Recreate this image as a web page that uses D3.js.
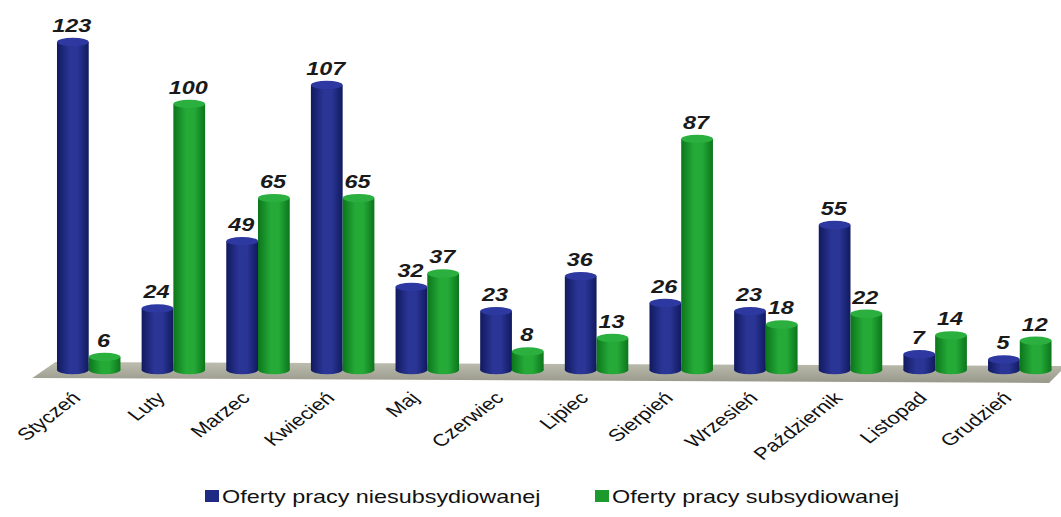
<!DOCTYPE html>
<html>
<head>
<meta charset="utf-8">
<script src="https://cdn.jsdelivr.net/npm/d3@7/dist/d3.min.js"></script>
<style>
  html, body { margin: 0; padding: 0; background: #ffffff; }
  svg { display: block; }
  text { font-family: "Liberation Sans", Arial, sans-serif; }
</style>
</head>
<body>
<svg id="chart" width="1061" height="517"></svg>
<script>
// ---- data ----
const months = ["Styczeń","Luty","Marzec","Kwiecień","Maj","Czerwiec","Lipiec","Sierpień","Wrzesień","Październik","Listopad","Grudzień"];
const niesubsydiowane = [123, 24, 49, 107, 32, 23, 36, 26, 23, 55, 7, 5];
const subsydiowane = [6, 100, 65, 65, 37, 8, 13, 87, 18, 22, 14, 12];
const seriesNames = ["Oferty pracy niesubsydiowanej", "Oferty pracy subsydiowanej"];
const seriesKeys = ["n", "s"];

// ---- layout ----
const W = 1061, H = 517;
const SX = 1.3;            // horizontal stretch of the scanned picture
const baseY = 370;
const svg = d3.select("#chart");

const rows = months.map((m, i) => ({ month: m, n: niesubsydiowane[i], s: subsydiowane[i] }));

const x = d3.scaleBand().domain(months).range([46.4, 1062.1]).paddingInner(0.25).paddingOuter(0.125);
const xs = d3.scaleBand().domain(seriesKeys).range([0, x.bandwidth()]).padding(0);
const y = d3.scaleLinear().domain([0, 123]).range([373, 42]);

const colors = {
  n: { edge: "#111a5e", mid: "#2a3596", cap: "#2d39a0", key: "#1f2a85" },
  s: { edge: "#0b761b", mid: "#25aa38", cap: "#2bb03f", key: "#1c9a2e" }
};

const defs = svg.append("defs");
seriesKeys.forEach(k => {
  const g = defs.append("linearGradient").attr("id", "grad-" + k)
    .attr("x1", 0).attr("x2", 1).attr("y1", 0).attr("y2", 0);
  g.append("stop").attr("offset", "0%").attr("stop-color", colors[k].edge);
  g.append("stop").attr("offset", "40%").attr("stop-color", colors[k].mid);
  g.append("stop").attr("offset", "65%").attr("stop-color", colors[k].mid);
  g.append("stop").attr("offset", "100%").attr("stop-color", colors[k].edge);
});
const fg = defs.append("linearGradient").attr("id", "floor")
  .attr("x1", 0).attr("x2", 0).attr("y1", 0).attr("y2", 1);
fg.append("stop").attr("offset", "0%").attr("stop-color", "#bdbdb0");
fg.append("stop").attr("offset", "100%").attr("stop-color", "#98988a");

// ---- floor ----
const r0 = x.range()[0], r1 = x.range()[1];
svg.append("polygon")
  .attr("points", [
    [r0 + 9, baseY - 8], [W, baseY - 4], [W, baseY + 1], [r1 - 13, baseY + 13], [r0 - 14, baseY + 8]
  ].map(p => p.join(",")).join(" "))
  .attr("fill", "url(#floor)");

// ---- bars (cylinders) ----
const bw = xs.bandwidth();
const ry = 4.2;
const groups = svg.append("g").selectAll("g").data(rows).join("g")
  .attr("transform", d => `translate(${x(d.month)},0)`);

seriesKeys.forEach(k => {
  const cyl = groups.append("g");
  cyl.append("ellipse")
    .attr("cx", xs(k) + bw / 2).attr("cy", baseY).attr("rx", bw / 2).attr("ry", ry)
    .attr("fill", `url(#grad-${k})`);
  cyl.append("rect")
    .attr("x", xs(k)).attr("width", bw)
    .attr("y", d => Math.min(y(d[k]), baseY))
    .attr("height", d => Math.max(0, baseY - y(d[k])))
    .attr("fill", `url(#grad-${k})`);
  cyl.append("ellipse")
    .attr("cx", xs(k) + bw / 2).attr("cy", d => y(d[k])).attr("rx", bw / 2).attr("ry", ry)
    .attr("fill", colors[k].cap);
});

// ---- value labels ----
seriesKeys.forEach(k => {
  groups.append("text")
    .attr("transform", d => `translate(${xs(k) + bw / 2 - 1},${y(d[k]) - ry - 6}) scale(${SX},1)`)
    .attr("text-anchor", "middle")
    .attr("font-size", 18)
    .attr("font-weight", "bold")
    .attr("font-style", "italic")
    .attr("fill", "#1a1a1a")
    .text(d => d[k]);
});

// ---- category labels ----
svg.append("g").selectAll("text").data(months).join("text")
  .attr("transform", m => `translate(${x(m) + x.bandwidth() / 2 - 7},399) scale(${SX},1) rotate(-45)`)
  .attr("text-anchor", "end")
  .attr("font-size", 17)
  .attr("fill", "#111")
  .text(m => m);

// ---- legend ----
const legendX = [205, 595];
const legend = svg.append("g");
seriesKeys.forEach((k, i) => {
  legend.append("rect").attr("x", legendX[i]).attr("y", 490).attr("width", 14).attr("height", 12)
    .attr("fill", colors[k].key);
  legend.append("text")
    .attr("transform", `translate(${legendX[i] + 17},503) scale(${SX},1)`)
    .attr("font-size", 18)
    .attr("fill", "#111")
    .text(seriesNames[i]);
});
</script>
</body>
</html>
